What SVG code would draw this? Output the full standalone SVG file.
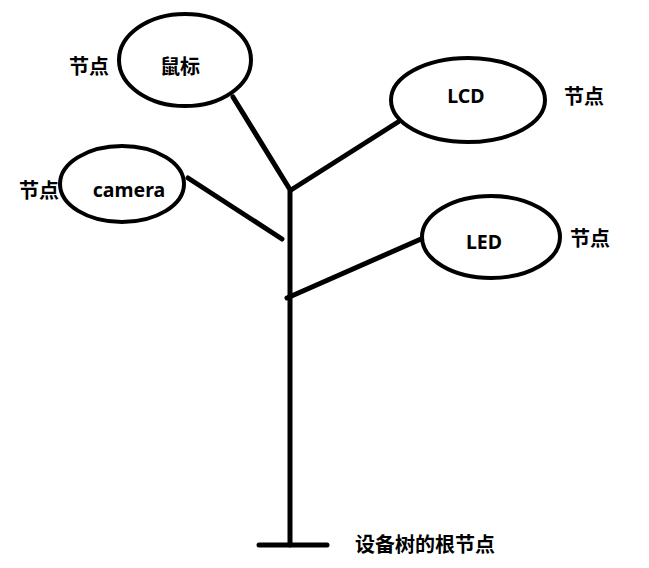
<svg xmlns="http://www.w3.org/2000/svg" width="649" height="568" viewBox="0 0 649 568">
<style>
.n{fill:none;stroke:#000;stroke-width:4}
.c{stroke:#000;stroke-width:5;stroke-linecap:round;fill:none}
.t{font-family:"Noto Sans","Noto Sans CJK SC",sans-serif;font-weight:bold;font-size:19.5px;fill:#000}
.z{font-family:"Noto Sans CJK SC","Noto Sans",sans-serif;font-weight:bold;font-size:20px;fill:#000}
</style>
<rect width="649" height="568" fill="#fff"/>
<g id="connectors">
<line class="c" x1="290" y1="190" x2="290" y2="545"/>
<line class="c" x1="259" y1="545" x2="327" y2="545"/>
<line class="c" x1="233" y1="97" x2="289" y2="188"/>
<line class="c" x1="188" y1="178" x2="282" y2="239"/>
<line class="c" x1="291" y1="190" x2="398" y2="122"/>
<line class="c" x1="287" y1="298" x2="421" y2="239"/>
</g>
<g id="node-mouse">
<ellipse class="n" cx="185" cy="60" rx="66" ry="46"/>
<text class="z" x="180" y="74" text-anchor="middle">鼠标</text>
<text class="z" x="89" y="74" text-anchor="middle">节点</text>
</g>
<g id="node-camera">
<ellipse class="n" cx="122" cy="184" rx="62" ry="38"/>
<text class="t" x="129" y="197" text-anchor="middle">camera</text>
<text class="z" x="39" y="198" text-anchor="middle">节点</text>
</g>
<g id="node-lcd">
<ellipse class="n" cx="468" cy="100" rx="77" ry="42"/>
<text class="t" x="466" y="103" text-anchor="middle">LCD</text>
<text class="z" x="584" y="104" text-anchor="middle">节点</text>
</g>
<g id="node-led">
<ellipse class="n" cx="491" cy="237" rx="69" ry="41"/>
<text class="t" x="484" y="249" text-anchor="middle">LED</text>
<text class="z" x="590" y="246" text-anchor="middle">节点</text>
</g>
<g id="node-root">
<text class="z" x="425" y="552" text-anchor="middle">设备树的根节点</text>
</g>
</svg>
